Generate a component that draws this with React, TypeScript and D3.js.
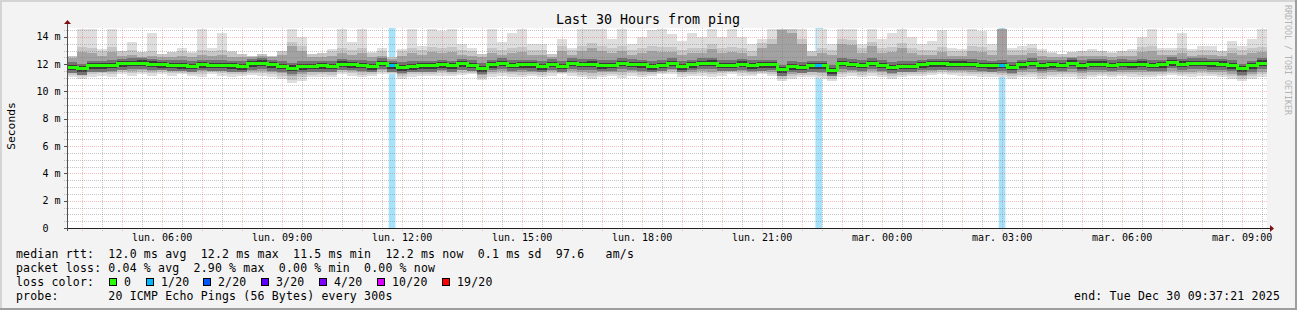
import React from 'react';
import * as d3 from 'd3';

// ---- data ----
const START_UTC = Date.UTC(2025, 11, 29, 3, 37, 21);
const END_UTC = Date.UTC(2025, 11, 30, 9, 37, 21);
const STEP_SECONDS = 900;

const median = [
  11.77, 11.65, 11.87, 11.87, 11.92, 12.03, 12.06, 12.08, 12.00, 11.96, 11.92, 11.89, 11.84, 11.96, 11.92, 11.92, 11.87, 11.82, 12.03, 12.08, 11.94, 11.84, 11.72, 11.82,
  11.84, 11.87, 11.84, 12.00, 11.96, 11.92, 11.82, 12.06, 11.87, 11.75, 11.82, 11.87, 11.87, 11.96, 11.87, 12.03, 11.92, 11.67, 11.96, 12.06, 11.92, 11.96, 11.94, 11.82,
  11.98, 11.84, 12.06, 11.98, 12.00, 11.89, 11.92, 12.06, 11.98, 11.94, 11.82, 11.92, 12.06, 11.82, 11.96, 12.06, 12.08, 11.92, 11.92, 12.00, 11.89, 11.94, 11.96, 11.58,
  11.82, 11.77, 11.87, 11.87, 11.53, 12.06, 11.98, 11.92, 12.06, 11.92, 11.77, 11.84, 11.84, 11.96, 12.03, 12.03, 12.00, 12.00, 11.98, 11.92, 11.87, 11.92, 11.77, 11.96,
  12.06, 11.89, 11.96, 11.92, 12.08, 11.89, 12.00, 12.00, 11.92, 11.98, 11.96, 12.00, 11.92, 11.94, 12.11, 12.00, 12.06, 12.06, 12.03, 12.00, 11.89, 11.65, 11.87, 12.08,
];

const smokeMax = [
  12.6, 14.6, 14.6, 13.1, 14.6, 13.0, 13.6, 12.9, 14.3, 12.75, 12.9, 13.2, 12.9, 14.6, 13.2, 14.3, 13.0, 12.75, 12.6, 12.75, 12.6, 13.0, 14.6, 14.0,
  12.75, 12.8, 13.1, 14.6, 13.6, 14.55, 12.9, 13.2, 12.5, 13.1, 14.6, 13.35, 14.6, 14.4, 14.6, 13.5, 13.2, 12.75, 14.6, 13.6, 14.3, 14.6, 13.5, 13.45,
  12.75, 13.85, 13.2, 14.6, 14.6, 14.6, 13.85, 14.6, 13.5, 14.0, 14.5, 14.6, 14.2, 13.7, 14.3, 14.0, 14.6, 14.0, 14.6, 14.0, 13.5, 13.85, 14.6, 14.6,
  14.6, 14.6, 13.0, 14.6, 13.5, 14.6, 14.6, 13.5, 14.6, 13.85, 14.3, 14.6, 14.0, 13.5, 13.7, 14.5, 13.2, 13.1, 14.6, 14.4, 13.5, 14.6, 13.2, 13.35,
  13.5, 13.1, 12.9, 12.75, 12.9, 13.0, 13.1, 13.0, 12.9, 13.0, 13.1, 14.0, 14.6, 13.2, 13.2, 14.3, 13.1, 13.35, 13.35, 13.0, 13.7, 13.35, 13.85, 14.6,
];

const smokeHi = [
  12.45, 12.9, 12.8, 12.6, 12.9, 12.6, 12.7, 12.55, 12.6, 12.5, 12.55, 12.6, 12.5, 12.7, 12.6, 12.7, 12.55, 12.5, 12.55, 12.6, 12.5, 12.7, 13.3, 13.0,
  12.5, 12.5, 12.6, 12.8, 12.7, 12.8, 12.5, 12.6, 12.4, 12.6, 12.8, 12.7, 12.9, 12.8, 12.9, 12.7, 12.6, 12.5, 12.8, 12.7, 12.8, 12.9, 12.7, 12.7,
  12.5, 13.0, 12.7, 13.0, 13.2, 13.0, 12.8, 13.0, 12.7, 12.8, 13.0, 12.9, 12.9, 12.7, 12.8, 12.8, 13.1, 12.8, 12.9, 12.8, 12.6, 13.2, 13.5, 14.5,
  14.3, 13.5, 12.6, 12.8, 12.7, 13.5, 13.4, 12.8, 13.3, 12.8, 12.9, 13.2, 12.8, 12.7, 12.7, 12.9, 12.6, 12.6, 13.0, 12.9, 12.7, 14.6, 12.7, 12.7,
  12.8, 12.6, 12.5, 12.5, 12.55, 12.6, 12.6, 12.6, 12.5, 12.6, 12.6, 12.9, 13.0, 12.7, 12.7, 12.8, 12.6, 12.7, 12.7, 12.6, 12.8, 12.7, 12.8, 12.9,
];

const smokeLo = [
  11.4, 11.3, 11.45, 11.5, 11.45, 11.55, 11.5, 11.55, 11.5, 11.55, 11.5, 11.5, 11.45, 11.5, 11.55, 11.5, 11.45, 11.45, 11.5, 11.5, 11.45, 11.35, 11.1, 11.3,
  11.4, 11.45, 11.4, 11.55, 11.5, 11.4, 11.45, 11.55, 11.5, 11.3, 11.4, 11.45, 11.45, 11.5, 11.45, 11.55, 11.5, 11.2, 11.45, 11.5, 11.45, 11.4, 11.45, 11.4,
  11.5, 11.45, 11.5, 11.4, 11.35, 11.4, 11.45, 11.4, 11.5, 11.4, 11.45, 11.5, 11.55, 11.4, 11.45, 11.5, 11.45, 11.5, 11.55, 11.5, 11.45, 11.5, 11.45, 11.1,
  11.3, 11.35, 11.4, 11.35, 11.1, 11.45, 11.5, 11.4, 11.5, 11.4, 11.3, 11.4, 11.45, 11.45, 11.5, 11.55, 11.5, 11.5, 11.45, 11.45, 11.4, 11.35, 11.3, 11.4,
  11.45, 11.35, 11.4, 11.45, 11.45, 11.35, 11.4, 11.45, 11.4, 11.45, 11.45, 11.4, 11.4, 11.45, 11.5, 11.45, 11.45, 11.5, 11.45, 11.4, 11.3, 11.1, 11.3, 11.45,
];

const smokeMin = [
  11.04, 10.92, 11.04, 11.16, 11.04, 11.28, 11.16, 11.28, 11.16, 11.28, 11.16, 11.28, 11.16, 11.09, 11.28, 11.16, 11.04, 11.16, 11.23, 11.16, 11.09, 10.92, 10.60, 10.79,
  11.04, 11.09, 11.04, 11.28, 11.16, 11.04, 11.16, 11.28, 11.28, 10.92, 11.09, 11.16, 11.16, 11.16, 11.16, 11.23, 11.28, 10.84, 11.04, 11.16, 11.09, 11.04, 11.16, 11.04,
  11.16, 11.28, 11.16, 11.04, 10.92, 11.04, 11.16, 10.99, 11.16, 11.04, 11.16, 11.28, 11.28, 11.09, 11.16, 11.16, 11.09, 11.16, 11.28, 11.16, 11.16, 11.28, 11.16, 10.74,
  10.92, 11.04, 11.04, 10.92, 10.74, 11.04, 11.16, 11.04, 11.16, 11.04, 10.92, 11.04, 11.16, 11.16, 11.23, 11.28, 11.23, 11.16, 11.16, 11.09, 11.09, 11.04, 10.92, 11.04,
  11.04, 10.92, 11.04, 11.09, 11.04, 10.92, 11.04, 11.16, 11.04, 11.16, 11.09, 11.04, 11.04, 11.16, 11.23, 11.16, 11.09, 11.16, 11.16, 11.04, 10.92, 10.74, 10.92, 11.09,
];

const lossEvents = [
  { start: '2025-12-29T11:40:00Z', end: '2025-12-29T11:50:00Z', loss: 1 },
  { start: '2025-12-29T22:20:00Z', end: '2025-12-29T22:30:00Z', loss: 1 },
  { start: '2025-12-30T02:55:00Z', end: '2025-12-30T03:05:00Z', loss: 1 },
];

const yTicks = [0, 2, 4, 6, 8, 10, 12, 14];
const yTickLabels = ['0  ', '2 m', '4 m', '6 m', '8 m', '10 m', '12 m', '14 m'];

const lossLegend = [
  { label: '0', color: '#26ff00' },
  { label: '1/20', color: '#00b8ff' },
  { label: '2/20', color: '#0059ff' },
  { label: '3/20', color: '#5e00ff' },
  { label: '4/20', color: '#7e00ff' },
  { label: '10/20', color: '#dd00ff' },
  { label: '19/20', color: '#ff0000' },
];
const lossBarColors = ['#ffffff', '#a6e2fa'];

const titleText = 'Last 30 Hours from ping';
const legendLine1 = 'median rtt:  12.0 ms avg  12.2 ms max  11.5 ms min  12.2 ms now  0.1 ms sd  97.6   am/s';
const legendLine2 = 'packet loss: 0.04 % avg  2.90 % max  0.00 % min  0.00 % now';
const legendLine3 = 'loss color:';
const legendLine4 = 'probe:       20 ICMP Echo Pings (56 Bytes) every 300s';
const lossColorX = [109, 146, 203, 261, 319, 377, 442];
const endText = 'end: Tue Dec 30 09:37:21 2025';

const frLocale = d3.timeFormatLocale({
  dateTime: '%A %e %B %Y à %X',
  date: '%d/%m/%Y',
  time: '%H:%M:%S',
  periods: ['AM', 'PM'],
  days: ['dimanche', 'lundi', 'mardi', 'mercredi', 'jeudi', 'vendredi', 'samedi'],
  shortDays: ['dim.', 'lun.', 'mar.', 'mer.', 'jeu.', 'ven.', 'sam.'],
  months: ['janvier', 'février', 'mars', 'avril', 'mai', 'juin', 'juillet', 'août', 'septembre', 'octobre', 'novembre', 'décembre'],
  shortMonths: ['janv.', 'févr.', 'mars', 'avr.', 'mai', 'juin', 'juil.', 'août', 'sept.', 'oct.', 'nov.', 'déc.'],
});
const fmtTick = frLocale.utcFormat('%a %H:%M');

const MONO = "'DejaVu Sans Mono', monospace";
const PRE: React.CSSProperties = { whiteSpace: 'pre' };

export default function App() {
  const W = 1297, H = 310;
  const L = 67, R = 1267, T = 28, B = 228;
  const x = d3.scaleUtc().domain([new Date(START_UTC), new Date(END_UTC)]).range([L, R]);
  const y = d3.scaleLinear().domain([0, 14.65]).range([B, T]);

  const pts = median.map((m, i) => ({
    t: new Date(START_UTC + i * STEP_SECONDS * 1000),
    m, max: smokeMax[i], hi: smokeHi[i], lo: smokeLo[i], min: smokeMin[i],
  }));
  const last = pts[pts.length - 1];
  const data = [...pts, { ...last, t: new Date(END_UTC) }];

  const band = (lo: (d: any) => number, hi: (d: any) => number) =>
    d3.area<any>().x(d => x(d.t)).y0(d => y(lo(d))).y1(d => y(hi(d))).curve(d3.curveStepAfter)(data) || '';

  const layers = [
    { d: band(d => d.min, d => d.max), fill: '#dedede' },
    { d: band(d => (d.min + d.lo) / 2, d => Math.min(d.max, d.hi + 0.35)), fill: '#c6c6c6' },
    { d: band(d => d.lo, d => d.hi), fill: '#a2a2a2' },
    { d: band(d => d.m - 0.42, d => d.m + 0.38), fill: '#737373' },
    { d: band(d => d.m - 0.22, d => d.m + 0.2), fill: '#3a3a3a' },
  ];
  const medPath = d3.line<any>().x(d => x(d.t)).y(d => y(d.m)).curve(d3.curveStepAfter)(data) || '';

  const minorH: number[] = d3.range(0.5, 14.6, 0.5).filter(v => Math.abs(v % 2) > 1e-6);
  const majorH = yTicks.filter(v => v > 0);
  const minorV = x.ticks(d3.utcMinute.every(30)!).filter(t => t.getUTCMinutes() !== 0);
  const majorV = x.ticks(d3.utcHour.every(1)!);
  const labelV = x.ticks(d3.utcHour.every(3)!);

  const minorColor = 'rgba(120,120,120,0.42)';
  const majorColor = 'rgba(240,60,60,0.32)';
  const px = (v: number) => Math.round(v) + 0.5;

  const lt = (txt: string, xx: number, yy: number, anchor: string = 'start', key?: string) => (
    <text key={key} x={xx} y={yy} textAnchor={anchor} fontSize={11.5} letterSpacing={0.18} fill="#000"
      xmlSpace="preserve" style={PRE}>{txt}</text>
  );

  return (
    <svg width={W} height={H} style={{ position: 'absolute', left: 0, top: 0, display: 'block' }}
      fontFamily={MONO}>
      <rect x={0} y={0} width={W} height={H} fill="#f3f3f3" />
      <rect x={0} y={0} width={W} height={2} fill="#d4d4d4" />
      <rect x={0} y={0} width={2} height={H} fill="#d4d4d4" />
      <rect x={0} y={H - 2} width={W} height={2} fill="#9e9e9e" />
      <rect x={W - 2} y={0} width={2} height={H} fill="#9e9e9e" />

      <rect x={L} y={T} width={R - L} height={B - T} fill="#ffffff" />

      <defs>
        <clipPath id="plotclip"><rect x={L} y={T} width={R - L} height={B - T} /></clipPath>
      </defs>

      <g clipPath="url(#plotclip)">
        {lossEvents.map((e, i) => (
          <rect key={i} x={x(new Date(e.start))} y={T} width={x(new Date(e.end)) - x(new Date(e.start))}
            height={B - T} fill={lossBarColors[e.loss]} />
        ))}
        {layers.map((l, i) => <path key={i} d={l.d} fill={l.fill} shapeRendering="crispEdges" />)}
      </g>

      {/* grid */}
      <g shapeRendering="crispEdges">
        {minorH.map(v => (
          <line key={'mh' + v} x1={L - 3} x2={R} y1={px(y(v))} y2={px(y(v))} stroke={minorColor} strokeDasharray="1,1" />
        ))}
        {minorV.map(t => (
          <line key={'mv' + t.getTime()} x1={px(x(t))} x2={px(x(t))} y1={T} y2={B + 3} stroke={minorColor} strokeDasharray="1,1" />
        ))}
        {majorH.map(v => (
          <line key={'Mh' + v} x1={L - 3} x2={R} y1={px(y(v))} y2={px(y(v))} stroke={majorColor} strokeDasharray="1,1" />
        ))}
        {majorV.map(t => (
          <line key={'Mv' + t.getTime()} x1={px(x(t))} x2={px(x(t))} y1={T} y2={B + 3} stroke={majorColor} strokeDasharray="1,1" />
        ))}
      </g>

      <g clipPath="url(#plotclip)">
        <path d={medPath} fill="none" stroke={lossLegend[0].color} strokeWidth={3} shapeRendering="crispEdges" />
        {lossEvents.map((e, i) => {
          const t0 = new Date(e.start);
          const idx = Math.floor((t0.getTime() - START_UTC) / (STEP_SECONDS * 1000));
          const yy = y(median[idx]);
          return <line key={i} x1={x(t0)} x2={x(new Date(e.end))} y1={yy} y2={yy}
            stroke={lossLegend[e.loss].color} strokeWidth={3} shapeRendering="crispEdges" />;
        })}
      </g>

      {/* axes */}
      <g shapeRendering="crispEdges">
        <line x1={L - 3} x2={R + 3} y1={B + 0.5} y2={B + 0.5} stroke="#202020" />
        <line x1={L + 0.5} x2={L + 0.5} y1={B + 3} y2={T - 5} stroke="#505050" />
        {yTicks.map(v => (
          <line key={'yt' + v} x1={L - 3} x2={L} y1={px(y(v))} y2={px(y(v))} stroke="#505050" />
        ))}
      </g>
      <path d={`M${L + 0.5 - 3.5},${T - 4} L${L + 0.5 + 3.5},${T - 4} L${L + 0.5},${T - 8} Z`} fill="#7f1010" />
      <path d={`M${R + 3},${B + 0.5 - 3.5} L${R + 3},${B + 0.5 + 3.5} L${R + 7},${B + 0.5} Z`} fill="#7f1010" />

      {/* y labels */}
      {yTicks.map((v, i) => (
        <text key={'yl' + v} x={60.5} y={y(v) + 3.5} textAnchor="end" fontSize={10} fill="#000"
          xmlSpace="preserve" style={PRE}>{yTickLabels[i]}</text>
      ))}
      {/* x labels */}
      {labelV.map(t => (
        <text key={'xl' + t.getTime()} x={x(t)} y={241} textAnchor="middle" fontSize={10} fill="#000">{fmtTick(t)}</text>
      ))}

      <text x={648} y={24} textAnchor="middle" fontSize={13.3} fill="#000">{titleText}</text>
      <text transform="translate(15,126) rotate(-90)" textAnchor="middle" fontSize={11.3} fill="#000">Seconds</text>
      <text transform="translate(1285,5) rotate(90)" fontSize={8.3} fill="#b4b4b4">RRDTOOL / TOBI OETIKER</text>

      {/* legend */}
      {lt(legendLine1, 16, 258)}
      {lt(legendLine2, 16, 272)}
      {lt(legendLine3, 16, 286)}
      {lossLegend.map((c, i) => (
        <g key={'c' + i}>
          <rect x={lossColorX[i] + 0.5} y={278.5} width={7} height={7} fill={c.color} stroke="#000" />
          {lt(c.label, lossColorX[i] + 15, 286)}
        </g>
      ))}
      {lt(legendLine4, 16, 300)}
      {lt(endText, 1280, 300, 'end')}
    </svg>
  );
}
